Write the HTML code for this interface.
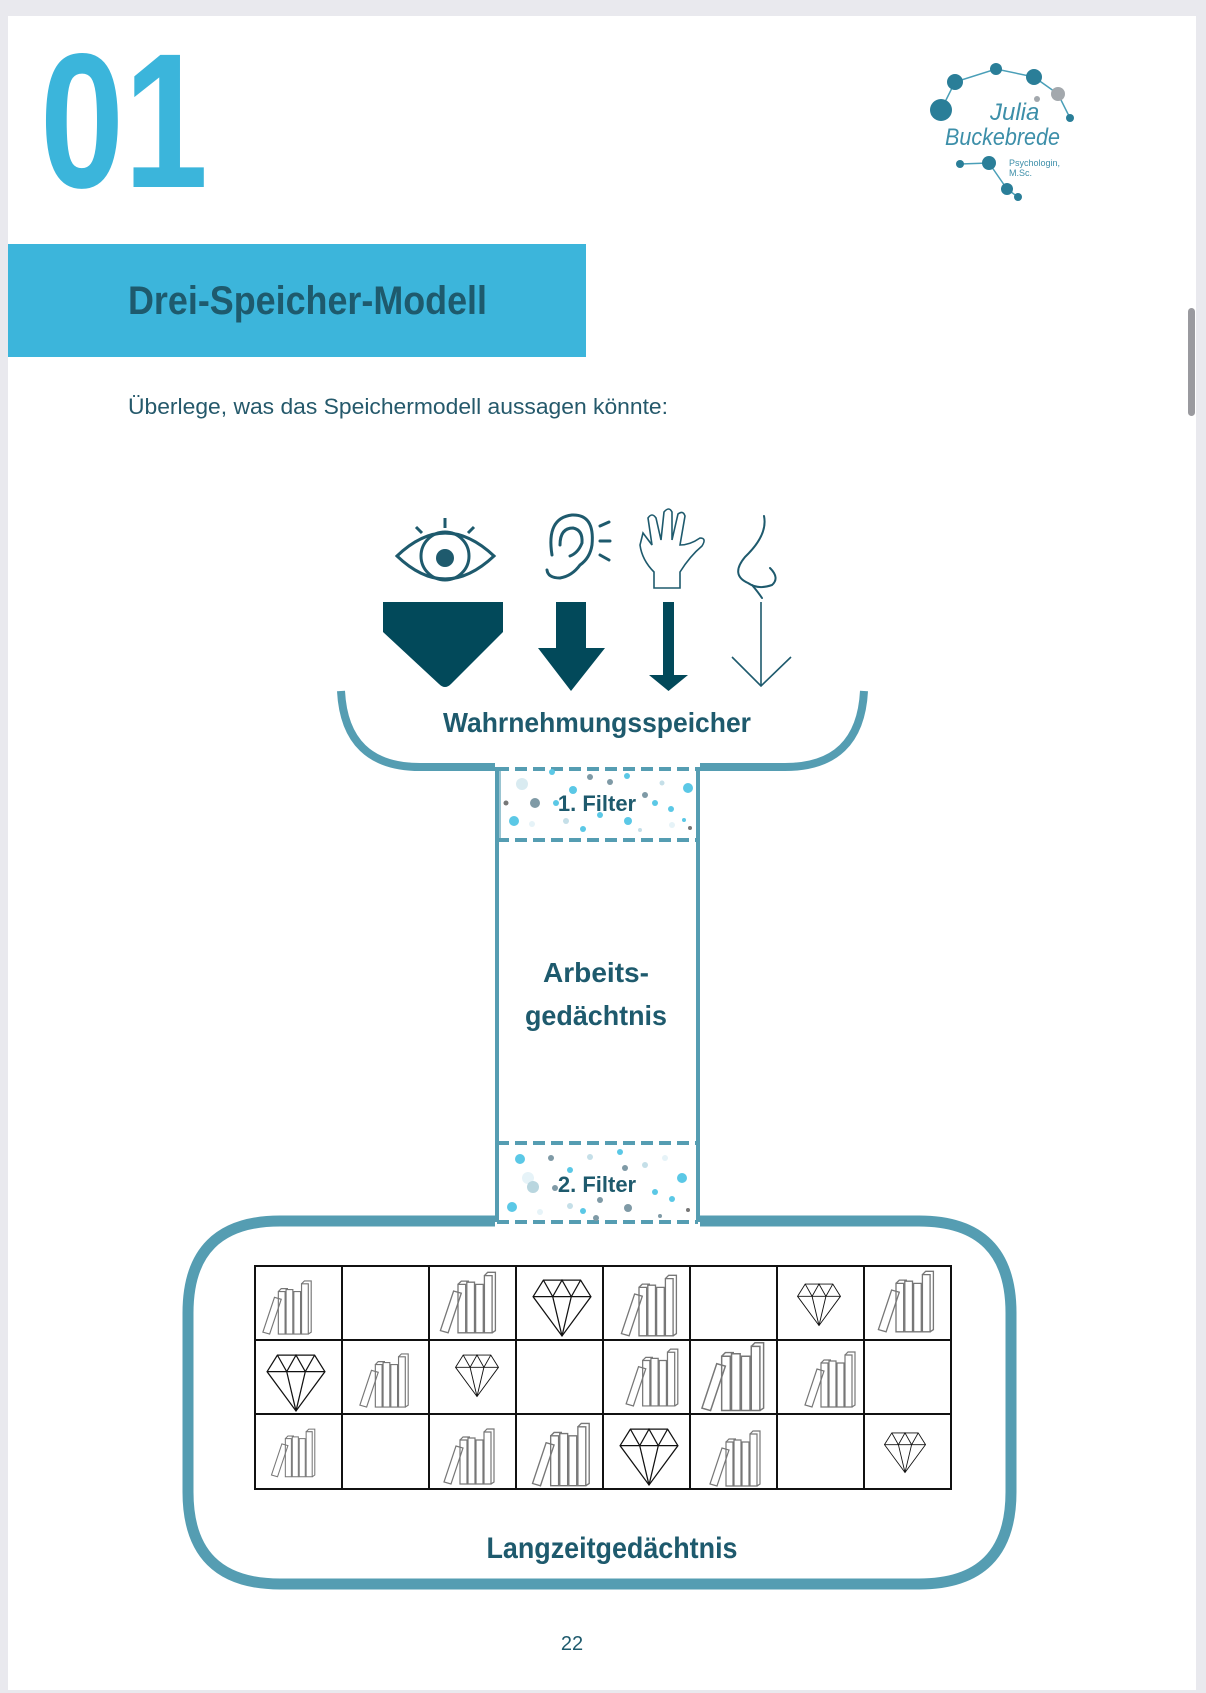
<!DOCTYPE html>
<html><head><meta charset="utf-8"><style>
html,body{margin:0;padding:0;background:#e9e9ee;}
svg{display:block;}
text{font-family:"Liberation Sans",sans-serif;}
</style></head><body>
<svg width="1206" height="1693" viewBox="0 0 1206 1693" xmlns="http://www.w3.org/2000/svg">
<defs>
<symbol id="books" viewBox="0 0 60 60">
 <g fill="none" stroke="#777" stroke-width="1.2">
  <path d="M4 56 L16 20 L23 22 L11 58 Z"/>
  <path d="M20 58 V14 H27 V58 Z"/>
  <path d="M28 58 V12 H35 V58 Z"/>
  <path d="M36 58 V14 H43 V58 Z"/>
  <path d="M44 58 V6 H51 V58 Z"/>
  <path d="M20 14 L23 11 H30 M44 6 L47 3 H54 V56 L51 58"/>
 </g>
</symbol>
<symbol id="dia" viewBox="0 0 60 60">
 <g fill="none" stroke="#111" stroke-width="1.2">
  <path d="M12 4 H48 L58 20 L30 58 L2 20 Z"/>
  <path d="M2 20 H58 M12 4 L21 20 L30 4 L39 20 L48 4 M21 20 L30 58 L39 20"/>
 </g>
</symbol>
</defs>
<rect x="0" y="0" width="1206" height="1693" fill="#e9e9ee"/>
<rect x="8" y="16" width="1188" height="1674" fill="#fff"/>
<rect x="1188" y="308" width="7" height="108" rx="3.5" fill="#9a9a9f"/>

<text x="40" y="187" font-size="192" font-weight="bold" fill="#3bb5db" textLength="168" lengthAdjust="spacingAndGlyphs">01</text>

<!-- logo -->
<g stroke="#4a9fb8" stroke-width="1.5" fill="none">
 <path d="M941 110 L955 82 L996 69 L1034 77 L1058 94 L1070 118"/>
 <path d="M960 164 L989 163 L1007 189 L1018 197"/>
</g>
<g fill="#2a7e98">
 <circle cx="955" cy="82" r="8"/><circle cx="996" cy="69" r="6"/><circle cx="1034" cy="77" r="8"/>
 <circle cx="941" cy="110" r="11"/><circle cx="1070" cy="118" r="4"/>
 <circle cx="960" cy="164" r="4"/><circle cx="989" cy="163" r="7"/><circle cx="1007" cy="189" r="6"/><circle cx="1018" cy="197" r="4"/>
</g>
<circle cx="1058" cy="94" r="7" fill="#a3a8ad"/><circle cx="1037" cy="99" r="3" fill="#a3a8ad"/>
<text x="990" y="120" font-family="Liberation Serif,serif" font-style="italic" font-size="24" fill="#3d8fa9">Julia</text>
<text x="945" y="145" font-family="Liberation Serif,serif" font-style="italic" font-size="24" fill="#3d8fa9" textLength="115" lengthAdjust="spacingAndGlyphs">Buckebrede</text>
<text x="1009" y="166" font-size="9" fill="#3d8fa9">Psychologin,</text>
<text x="1009" y="176" font-size="9" fill="#3d8fa9">M.Sc.</text>

<!-- banner -->
<rect x="8" y="244" width="578" height="113" fill="#3cb5db"/>
<text x="128" y="314" font-size="40" font-weight="bold" fill="#1e5a6d" textLength="359" lengthAdjust="spacingAndGlyphs">Drei-Speicher-Modell</text>
<text x="128" y="414" font-size="22" fill="#25596b" textLength="540" lengthAdjust="spacingAndGlyphs">Überlege, was das Speichermodell aussagen könnte:</text>

<!-- eye -->
<g stroke="#1e5a6d" stroke-width="3" fill="none">
 <path d="M397 556 Q445 510 494 556 Q445 602 397 556 Z"/>
 <circle cx="445" cy="556" r="24"/>
 <path d="M445 518 V528 M416 527 L422 533 M474 527 L468 533"/>
</g>
<circle cx="445" cy="558" r="9" fill="#1e5a6d"/>
<!-- ear -->
<g stroke="#1e5a6d" stroke-width="3" fill="none" stroke-linecap="round">
 <path d="M552 555 Q546 518 572 515 Q595 514 592 545 Q590 558 580 565 Q572 576 560 578 Q548 578 547 570"/>
 <path d="M560 545 Q560 528 573 528 Q583 530 582 543 Q578 553 570 556"/>
 <path d="M600 526 L609 522 M600 541 H610 M600 555 L609 560"/>
</g>
<!-- hand -->
<g stroke="#1e5a6d" stroke-width="1.6" fill="none">
 <path d="M654 588 V572 Q642 560 640 545 L643 533 L652 545 L648 518 Q652 512 656 518 L661 540 L664 512 Q669 506 672 512 L672 540 L678 514 Q683 510 685 516 L680 545 Q690 545 700 538 Q707 538 702 546 Q690 556 680 572 V588 Z"/>
</g>
<!-- nose -->
<g stroke="#1e5a6d" stroke-width="2" fill="none" stroke-linecap="round">
 <path d="M764 516 Q768 535 745 557 Q730 575 748 583 Q758 590 772 585 Q780 578 770 568"/>
 <path d="M752 585 Q758 592 762 598"/>
</g>
<!-- arrows -->
<path d="M383 602 H503 V632 L451 684 Q445 690 439 684 L383 632 Z" fill="#02495a"/>
<path d="M556 602 H586 V648 H605 L571 691 L538 648 H556 Z" fill="#02495a"/>
<path d="M663 602 H674 V675 H688 L668.5 691 L649 675 H663 Z" fill="#02495a"/>
<g stroke="#1e5a6d" stroke-width="1.6" fill="none"><path d="M761 602 V686 M732 657 L761 686 L791 657"/></g>

<!-- Wahrnehmungsspeicher -->
<path d="M341 691 Q345 767 420 767 H495 M700 767 H785 Q860 767 864 691" stroke="#559db2" stroke-width="8" fill="none"/>
<text x="597" y="732" font-size="28" font-weight="bold" fill="#1e5a6d" text-anchor="middle" textLength="308" lengthAdjust="spacingAndGlyphs">Wahrnehmungsspeicher</text>

<!-- column -->
<g stroke="#559db2" stroke-width="4" fill="none">
 <path d="M497 767 V1222 M698 767 V1222"/>
 <path d="M497 769 H698 M497 840 H698 M497 1143 H698 M497 1222 H698" stroke-dasharray="12 6"/>
</g>
<rect x="495" y="767" width="6" height="73" fill="#559db2" opacity="0.6"/>
<!-- dots -->
<g>
 <circle cx="522" cy="784" r="6" fill="#d9ebf1"/><circle cx="535" cy="803" r="5" fill="#7f9aa6"/><circle cx="552" cy="772" r="3" fill="#5bc8e6"/>
 <circle cx="573" cy="790" r="4" fill="#5bc8e6"/><circle cx="590" cy="777" r="3" fill="#7f9aa6"/><circle cx="610" cy="782" r="3" fill="#7f9aa6"/>
 <circle cx="627" cy="776" r="3" fill="#5bc8e6"/><circle cx="645" cy="795" r="3" fill="#7f9aa6"/><circle cx="662" cy="783" r="2.5" fill="#c5dfe8"/>
 <circle cx="688" cy="788" r="5" fill="#5bc8e6"/><circle cx="514" cy="821" r="5" fill="#5bc8e6"/><circle cx="532" cy="824" r="3" fill="#e6f3f8"/>
 <circle cx="566" cy="821" r="3" fill="#c5dfe8"/><circle cx="583" cy="829" r="3" fill="#5bc8e6"/><circle cx="600" cy="815" r="3" fill="#5bc8e6"/>
 <circle cx="628" cy="821" r="4" fill="#5bc8e6"/><circle cx="655" cy="803" r="3" fill="#5bc8e6"/><circle cx="671" cy="809" r="3" fill="#5bc8e6"/>
 <circle cx="672" cy="825" r="3" fill="#e6f3f8"/><circle cx="684" cy="820" r="2" fill="#5bc8e6"/><circle cx="690" cy="828" r="2" fill="#777"/>
 <circle cx="506" cy="803" r="2.5" fill="#777"/><circle cx="556" cy="803" r="3" fill="#5bc8e6"/><circle cx="640" cy="830" r="2" fill="#c5dfe8"/>

 <circle cx="520" cy="1159" r="5" fill="#5bc8e6"/><circle cx="528" cy="1178" r="6" fill="#e6f3f8"/><circle cx="551" cy="1158" r="3" fill="#7f9aa6"/>
 <circle cx="570" cy="1170" r="3" fill="#5bc8e6"/><circle cx="590" cy="1157" r="3" fill="#c5dfe8"/><circle cx="620" cy="1152" r="3" fill="#5bc8e6"/>
 <circle cx="625" cy="1168" r="3" fill="#7f9aa6"/><circle cx="645" cy="1165" r="3" fill="#c5dfe8"/><circle cx="665" cy="1158" r="3" fill="#e6f3f8"/>
 <circle cx="682" cy="1178" r="5" fill="#5bc8e6"/><circle cx="533" cy="1187" r="6" fill="#b9d6df"/><circle cx="555" cy="1188" r="3" fill="#7f9aa6"/>
 <circle cx="512" cy="1207" r="5" fill="#5bc8e6"/><circle cx="540" cy="1212" r="3" fill="#e6f3f8"/><circle cx="570" cy="1206" r="3" fill="#c5dfe8"/>
 <circle cx="583" cy="1211" r="3" fill="#5bc8e6"/><circle cx="600" cy="1200" r="3" fill="#7f9aa6"/><circle cx="628" cy="1208" r="4" fill="#7f9aa6"/>
 <circle cx="655" cy="1192" r="3" fill="#5bc8e6"/><circle cx="672" cy="1199" r="3" fill="#5bc8e6"/><circle cx="688" cy="1210" r="2" fill="#777"/>
 <circle cx="660" cy="1216" r="2" fill="#7f9aa6"/><circle cx="596" cy="1218" r="3" fill="#7f9aa6"/>
</g>
<text x="597" y="811" font-size="22" font-weight="bold" fill="#1e5a6d" text-anchor="middle">1. Filter</text>
<text x="597" y="1192" font-size="22" font-weight="bold" fill="#1e5a6d" text-anchor="middle">2. Filter</text>
<text x="596" y="982" font-size="28" font-weight="bold" fill="#1e5a6d" text-anchor="middle" textLength="106" lengthAdjust="spacingAndGlyphs">Arbeits-</text>
<text x="596" y="1025" font-size="28" font-weight="bold" fill="#1e5a6d" text-anchor="middle" textLength="142" lengthAdjust="spacingAndGlyphs">gedächtnis</text>

<!-- Langzeit -->
<path d="M495 1221 H280 Q188 1221 188 1313 V1492 Q188 1584 280 1584 H919 Q1011 1584 1011 1492 V1313 Q1011 1221 919 1221 H700" stroke="#559db2" stroke-width="11" fill="none"/>
<g stroke="#111" stroke-width="2" fill="none">
 <rect x="255" y="1266" width="696" height="223"/>
 <path d="M342 1266 V1489 M429 1266 V1489 M516 1266 V1489 M603 1266 V1489 M690 1266 V1489 M777 1266 V1489 M864 1266 V1489"/>
 <path d="M255 1340 H951 M255 1414 H951"/>
</g>
<use href="#books" x="258" y="1278" width="60" height="58"/>
<use href="#books" x="436" y="1268" width="66" height="68"/>
<use href="#dia" x="531" y="1276" width="62" height="62"/>
<use href="#books" x="617" y="1272" width="66" height="66"/>
<use href="#dia" x="796" y="1281" width="46" height="46"/>
<use href="#books" x="874" y="1268" width="66" height="66"/>
<use href="#dia" x="265" y="1351" width="62" height="62"/>
<use href="#books" x="356" y="1350" width="58" height="60"/>
<use href="#dia" x="454" y="1352" width="46" height="46"/>
<use href="#books" x="622" y="1345" width="62" height="64"/>
<use href="#books" x="694" y="1339" width="80" height="74"/>
<use href="#books" x="801" y="1348" width="60" height="62"/>
<use href="#books" x="268" y="1425" width="52" height="55"/>
<use href="#books" x="440" y="1425" width="60" height="62"/>
<use href="#books" x="528" y="1420" width="68" height="68"/>
<use href="#dia" x="618" y="1425" width="62" height="62"/>
<use href="#books" x="706" y="1428" width="60" height="60"/>
<use href="#dia" x="883" y="1430" width="44" height="44"/>

<text x="612" y="1558" font-size="30" font-weight="bold" fill="#1e5a6d" text-anchor="middle" textLength="251" lengthAdjust="spacingAndGlyphs">Langzeitgedächtnis</text>
<text x="572" y="1650" font-size="20" fill="#1e5a6d" text-anchor="middle">22</text>
</svg>
</body></html>
